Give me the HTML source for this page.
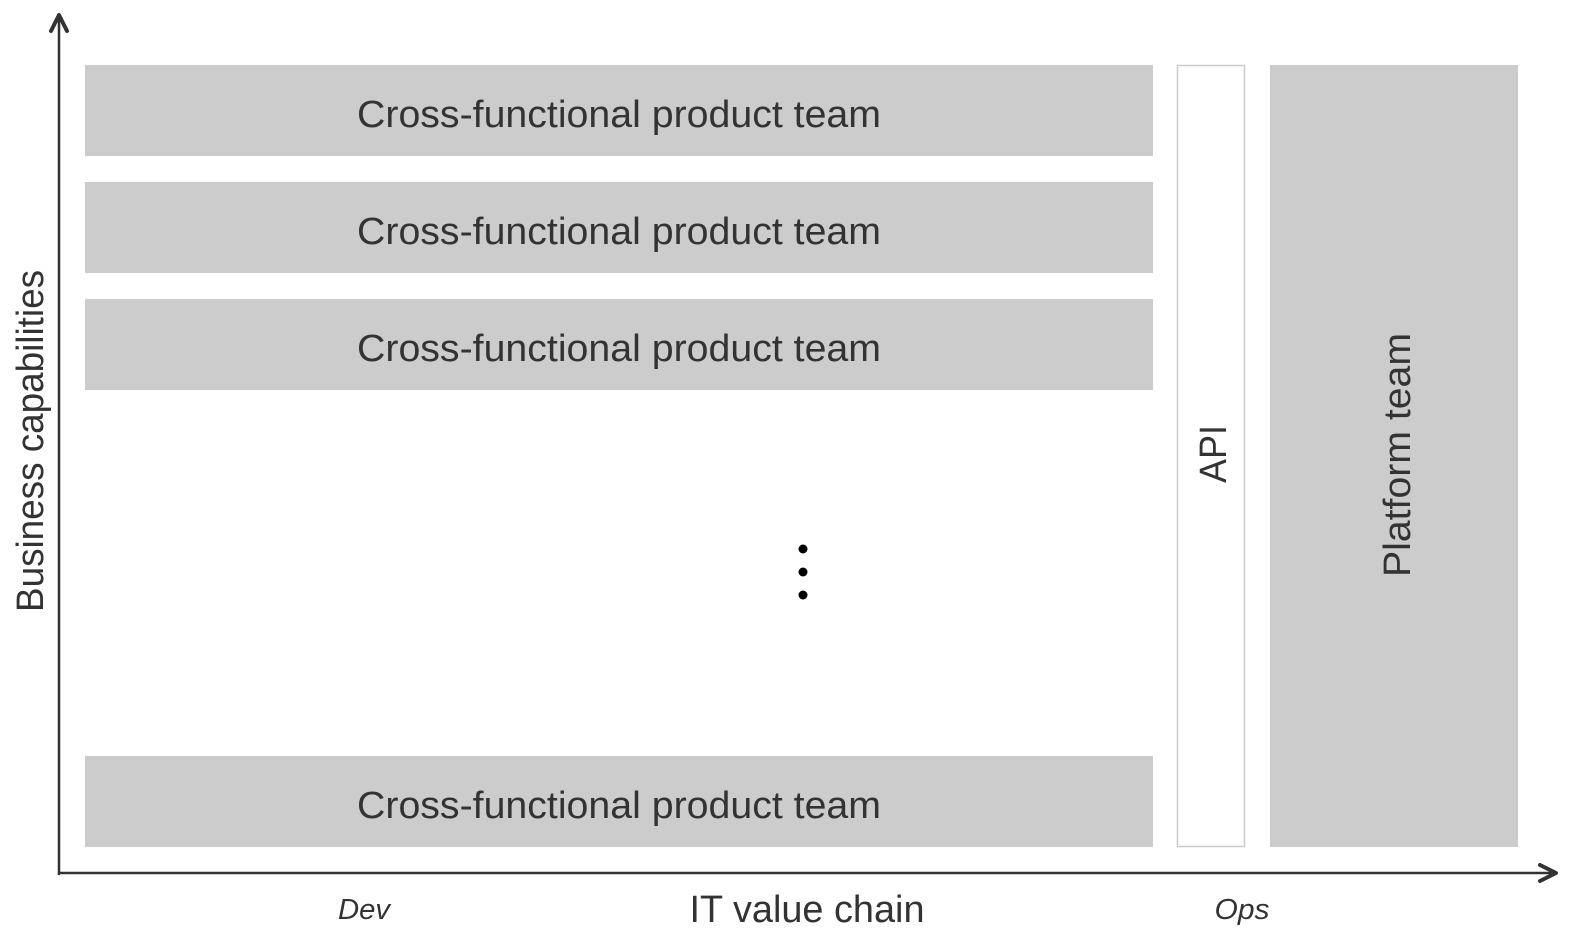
<!DOCTYPE html>
<html><head><style>
body{margin:0;width:1570px;height:936px;background:#fff;overflow:hidden;font-family:"Liberation Sans",sans-serif;}
</style></head><body>
<svg width="1570" height="936" xmlns="http://www.w3.org/2000/svg" font-family="Liberation Sans, sans-serif">
<rect x="85" y="65" width="1068" height="91" fill="#cccccc"/>
<rect x="85" y="182" width="1068" height="91" fill="#cccccc"/>
<rect x="85" y="299" width="1068" height="91" fill="#cccccc"/>
<rect x="85" y="756" width="1068" height="91" fill="#cccccc"/>
<rect x="1177.5" y="65.5" width="67" height="781" fill="#fff" stroke="#cccccc" stroke-width="1.5"/>
<rect x="1270" y="65" width="248" height="782" fill="#cccccc"/>
<g font-size="38" fill="#333" text-anchor="middle" lengthAdjust="spacingAndGlyphs">
<text x="619" y="127" textLength="524" lengthAdjust="spacingAndGlyphs">Cross-functional product team</text>
<text x="619" y="244" textLength="524" lengthAdjust="spacingAndGlyphs">Cross-functional product team</text>
<text x="619" y="361" textLength="524" lengthAdjust="spacingAndGlyphs">Cross-functional product team</text>
<text x="619" y="818" textLength="524" lengthAdjust="spacingAndGlyphs">Cross-functional product team</text>
<text transform="translate(1226,454) rotate(-90)" textLength="58" lengthAdjust="spacingAndGlyphs">API</text>
<text transform="translate(1410,455) rotate(-90)" textLength="244" lengthAdjust="spacingAndGlyphs">Platform team</text>
<text transform="translate(43,441) rotate(-90)" textLength="342" lengthAdjust="spacingAndGlyphs">Business capabilities</text>
<text x="807" y="922" textLength="235" lengthAdjust="spacingAndGlyphs">IT value chain</text>
<text x="364" y="919" font-size="29" font-style="italic" textLength="52" lengthAdjust="spacingAndGlyphs">Dev</text>
<text x="1242" y="919" font-size="29" font-style="italic" textLength="55" lengthAdjust="spacingAndGlyphs">Ops</text>
</g>
<circle cx="803" cy="549" r="4.5" fill="#000"/>
<circle cx="803" cy="572" r="4.5" fill="#000"/>
<circle cx="803" cy="595" r="4.5" fill="#000"/>
<g stroke="#333" stroke-width="2.5" fill="none" stroke-linecap="round" stroke-linejoin="round">
<line x1="59" y1="16" x2="59" y2="874"/>
<line x1="59" y1="873" x2="1555" y2="873"/>
<polyline points="51,31 59,15 67,31" stroke-width="4"/>
<polyline points="1540,865 1556,873 1540,881" stroke-width="4"/>
</g>
</svg>
</body></html>
